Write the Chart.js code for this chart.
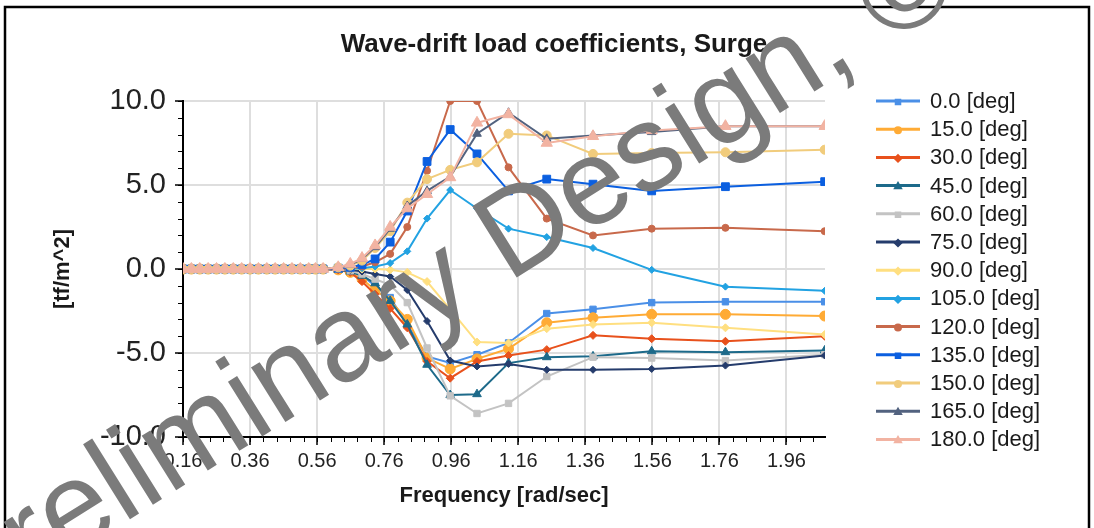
<!DOCTYPE html>
<html>
<head>
<meta charset="utf-8">
<script src="https://cdn.jsdelivr.net/npm/chart.js@4.4.1/dist/chart.umd.min.js"></script>
<style>
  html, body { margin: 0; padding: 0; background: #ffffff; }
  canvas { display: block; }
</style>
</head>
<body>
<canvas id="chart" width="1094" height="528"></canvas>
<script>
// Wave frequencies [rad/sec]
const frequencies = [0.160, 0.185, 0.210, 0.235, 0.260, 0.285, 0.310, 0.335, 0.360, 0.385, 0.410, 0.435,
  0.460, 0.485, 0.510, 0.535, 0.555, 0.578, 0.623, 0.659, 0.694, 0.733, 0.778, 0.829, 0.888,
  0.957, 1.037, 1.131, 1.245, 1.383, 1.558, 1.778, 2.074];

// Wave headings
const headings = ['0.0', '15.0', '30.0', '45.0', '60.0', '75.0', '90.0', '105.0', '120.0', '135.0', '150.0', '165.0', '180.0'];

// Surge drift coefficient per heading [tf/m^2]
const surge000 = [0, 0, 0, 0, 0, 0, 0, 0, 0, 0, 0, 0, 0, 0, 0, 0, 0, 0, -0.05, -0.15, -0.4, -1.0, -1.7, -3.3, -5.2, -5.6, -5.1, -4.4, -2.65, -2.4, -2.0, -1.95, -1.95];
const surge015 = [0, 0, 0, 0, 0, 0, 0, 0, 0, 0, 0, 0, 0, 0, 0, 0, 0, 0, -0.05, -0.2, -0.6, -1.25, -1.9, -3.0, -5.3, -5.95, -5.35, -4.75, -3.2, -2.9, -2.7, -2.7, -2.8];
const surge030 = [0, 0, 0, 0, 0, 0, 0, 0, 0, 0, 0, 0, 0, 0, 0, 0, 0, 0, -0.05, -0.2, -0.75, -1.5, -2.35, -3.5, -5.5, -6.5, -5.5, -5.15, -4.8, -3.95, -4.15, -4.3, -4.0];
const surge045 = [0, 0, 0, 0, 0, 0, 0, 0, 0, 0, 0, 0, 0, 0, 0, 0, 0, 0, -0.05, -0.15, -0.4, -0.85, -1.9, -3.3, -5.7, -7.5, -7.45, -5.6, -5.25, -5.2, -4.9, -4.95, -4.85];
const surge060 = [0, 0, 0, 0, 0, 0, 0, 0, 0, 0, 0, 0, 0, 0, 0, 0, 0, 0, 0, -0.1, -0.3, -0.6, -0.95, -2.0, -4.7, -7.55, -8.6, -8.0, -6.4, -5.25, -5.3, -5.45, -5.1];
const surge075 = [0, 0, 0, 0, 0, 0, 0, 0, 0, 0, 0, 0, 0, 0, 0, 0, 0, 0, 0, -0.05, -0.15, -0.3, -0.45, -1.25, -3.1, -5.45, -5.8, -5.65, -6.0, -6.0, -5.95, -5.75, -5.15];
const surge090 = [0, 0, 0, 0, 0, 0, 0, 0, 0, 0, 0, 0, 0, 0, 0, 0, 0, 0, 0, 0, 0, 0, -0.05, -0.2, -0.75, -2.4, -4.35, -4.4, -3.55, -3.3, -3.2, -3.5, -3.9];
const surge105 = [0, 0, 0, 0, 0, 0, 0, 0, 0, 0, 0, 0, 0, 0, 0, 0, 0, 0, 0, 0.02, 0.05, 0.15, 0.35, 1.05, 3.0, 4.7, 3.6, 2.4, 1.9, 1.25, -0.05, -1.05, -1.3];
const surge120 = [0, 0, 0, 0, 0, 0, 0, 0, 0, 0, 0, 0, 0, 0, 0, 0, 0, 0, 0, 0.05, 0.15, 0.4, 0.9, 2.5, 5.85, 10.0, 10.0, 6.05, 3.0, 2.0, 2.4, 2.45, 2.25];
const surge135 = [0, 0, 0, 0, 0, 0, 0, 0, 0, 0, 0, 0, 0, 0, 0, 0, 0, 0, 0.05, 0.1, 0.25, 0.6, 1.6, 3.45, 6.4, 8.3, 6.85, 4.65, 5.35, 5.05, 4.65, 4.9, 5.2];
const surge150 = [0, 0, 0, 0, 0, 0, 0, 0, 0, 0, 0, 0, 0, 0, 0, 0, 0, 0, 0.1, 0.2, 0.5, 1.25, 2.25, 3.95, 5.35, 5.9, 6.35, 8.05, 7.95, 6.85, 6.9, 6.95, 7.1];
const surge165 = [0, 0, 0, 0, 0, 0, 0, 0, 0, 0, 0, 0, 0, 0, 0, 0, 0, 0, 0.1, 0.25, 0.6, 1.3, 2.4, 3.75, 4.65, 5.5, 8.05, 9.3, 7.75, 7.95, 8.15, 8.5, 8.5];
const surge180 = [0, 0, 0, 0, 0, 0, 0, 0, 0, 0, 0, 0, 0, 0, 0, 0, 0, 0, 0.1, 0.3, 0.65, 1.4, 2.5, 3.6, 4.45, 5.45, 8.7, 9.2, 7.5, 7.9, 8.25, 8.5, 8.5];

// Axis tick values
const freqTicks = [0.16, 0.36, 0.56, 0.76, 0.96, 1.16, 1.36, 1.56, 1.76, 1.96];
const coefTicks = [-10, -5, 0, 5, 10];

const seriesValues = [surge000, surge015, surge030, surge045, surge060, surge075, surge090,
  surge105, surge120, surge135, surge150, surge165, surge180];

const seriesStyle = [
  { color: '#4a8fe7', point: 'rect',     radius: 4.5 },
  { color: '#ffab35', point: 'circle',   radius: 5 },
  { color: '#e8511c', point: 'rectRot',  radius: 4 },
  { color: '#1d6a8a', point: 'triangle', radius: 5 },
  { color: '#c3c3c3', point: 'rect',     radius: 4.5 },
  { color: '#253c6c', point: 'rectRot',  radius: 3.5 },
  { color: '#ffdf80', point: 'rectRot',  radius: 4 },
  { color: '#22a2e2', point: 'rectRot',  radius: 3.5 },
  { color: '#c8694b', point: 'circle',   radius: 3.5 },
  { color: '#0b5fe0', point: 'rect',     radius: 5.5 },
  { color: '#f1cc7c', point: 'circle',   radius: 4.5 },
  { color: '#52627f', point: 'triangle', radius: 5 },
  { color: '#f2b3a2', point: 'triangle', radius: 6.5 }
];

const FONT = '"Liberation Sans", Arial, sans-serif';

const datasets = seriesValues.map((vals, i) => ({
  label: headings[i] + ' [deg]',
  data: frequencies.map((f, k) => ({ x: f, y: vals[k] })),
  borderColor: seriesStyle[i].color,
  backgroundColor: seriesStyle[i].color,
  pointStyle: seriesStyle[i].point,
  pointRadius: seriesStyle[i].radius,
  pointBorderWidth: 1,
  borderWidth: 2,
  tension: 0,
  order: headings.length - i
}));

// Frame, title, minor ticks, legend and the diagonal stamp
const decorations = {
  id: 'decorations',
  beforeDraw(chart) {
    const ctx = chart.ctx;
    ctx.save();
    ctx.fillStyle = '#ffffff';
    ctx.fillRect(0, 0, chart.width, chart.height);
    ctx.restore();
  },
  afterDraw(chart) {
    const ctx = chart.ctx;
    const xs = chart.scales.x, ys = chart.scales.y;
    const area = chart.chartArea;
    ctx.save();

    // minor ticks
    ctx.strokeStyle = '#000';
    ctx.lineWidth = 1;
    ctx.beginPath();
    for (let v = 0.16; v < 2.075; v += 0.04) {
      const px = Math.round(xs.getPixelForValue(v)) + 0.5;
      ctx.moveTo(px, area.bottom);
      ctx.lineTo(px, area.bottom + 5);
    }
    for (let v = -10; v <= 10; v += 1) {
      const py = Math.round(ys.getPixelForValue(v)) + 0.5;
      ctx.moveTo(area.left, py);
      ctx.lineTo(area.left - 5, py);
    }
    ctx.stroke();

    // title
    ctx.fillStyle = '#1a1a1a';
    ctx.font = 'bold 26px ' + FONT;
    ctx.textAlign = 'center';
    ctx.textBaseline = 'middle';
    ctx.fillText('Wave-drift load coefficients, Surge', 554, 45);

    // legend
    ctx.font = '22px ' + FONT;
    ctx.textAlign = 'left';
    chart.data.datasets.forEach((ds, i) => {
      const y = 101 + i * 28.2;
      ctx.strokeStyle = ds.borderColor;
      ctx.lineWidth = 3;
      ctx.beginPath();
      ctx.moveTo(876, y);
      ctx.lineTo(920, y);
      ctx.stroke();
      ctx.fillStyle = ds.borderColor;
      Chart.helpers.drawPoint(ctx, { pointStyle: ds.pointStyle, radius: 2.5, rotation: 0, borderWidth: 1 }, 898, y + 1);
      ctx.fillStyle = '#1a1a1a';
      ctx.fillText(ds.label, 930, y + 1);
    });

    // outer frame
    ctx.strokeStyle = '#000';
    ctx.lineWidth = 2.5;
    ctx.strokeRect(5, 7, 1084, 540);

    // diagonal stamp
    ctx.translate(-38, 624);
    ctx.rotate(-32 * Math.PI / 180);
    ctx.fillStyle = '#7b7b7b';
    ctx.font = '122px ' + FONT;
    ctx.textAlign = 'left';
    ctx.textBaseline = 'alphabetic';
    ctx.fillText('Preliminary Design, \u00a9', 0, 0);
    ctx.restore();
  }
};

new Chart(document.getElementById('chart'), {
  type: 'line',
  data: { datasets },
  options: {
    responsive: false,
    animation: false,
    devicePixelRatio: 1,
    layout: { padding: { left: 0, right: 269, top: 101, bottom: 0 } },
    plugins: { legend: { display: false }, title: { display: false }, tooltip: { enabled: false } },
    scales: {
      x: {
        type: 'linear',
        min: 0.16,
        max: 2.075,
        afterBuildTicks: (s) => { s.ticks = freqTicks.map(v => ({ value: v })); },
        afterFit: (s) => { s.height = 528 - 437; },
        ticks: {
          autoSkip: false,
          maxRotation: 0,
          padding: 4,
          color: '#222',
          font: { family: FONT, size: 20 },
          callback: (v) => Number(v).toFixed(2)
        },
        grid: { color: '#dedede', lineWidth: 2, tickColor: '#000', tickLength: 8, tickWidth: 1.5 },
        border: { color: '#000', width: 2 },
        title: { display: true, text: 'Frequency [rad/sec]', color: '#1a1a1a',
                 font: { family: FONT, size: 22, weight: 'bold' }, padding: { top: 0, bottom: 19 } }
      },
      y: {
        min: -10,
        max: 10,
        afterBuildTicks: (s) => { s.ticks = coefTicks.map(v => ({ value: v })); },
        afterFit: (s) => { s.width = 183; },
        ticks: {
          padding: 9,
          color: '#222',
          font: { family: FONT, size: 29 },
          callback: (v) => Number(v).toFixed(1)
        },
        grid: { color: '#dedede', lineWidth: 2, tickColor: '#000', tickLength: 8, tickWidth: 1.5 },
        border: { color: '#000', width: 2 },
        title: { display: true, text: '[tf/m^2]', color: '#1a1a1a',
                 font: { family: FONT, size: 22, weight: 'bold' }, padding: { top: 50, bottom: 0 } }
      }
    }
  },
  plugins: [decorations]
});
</script>
</body>
</html>
